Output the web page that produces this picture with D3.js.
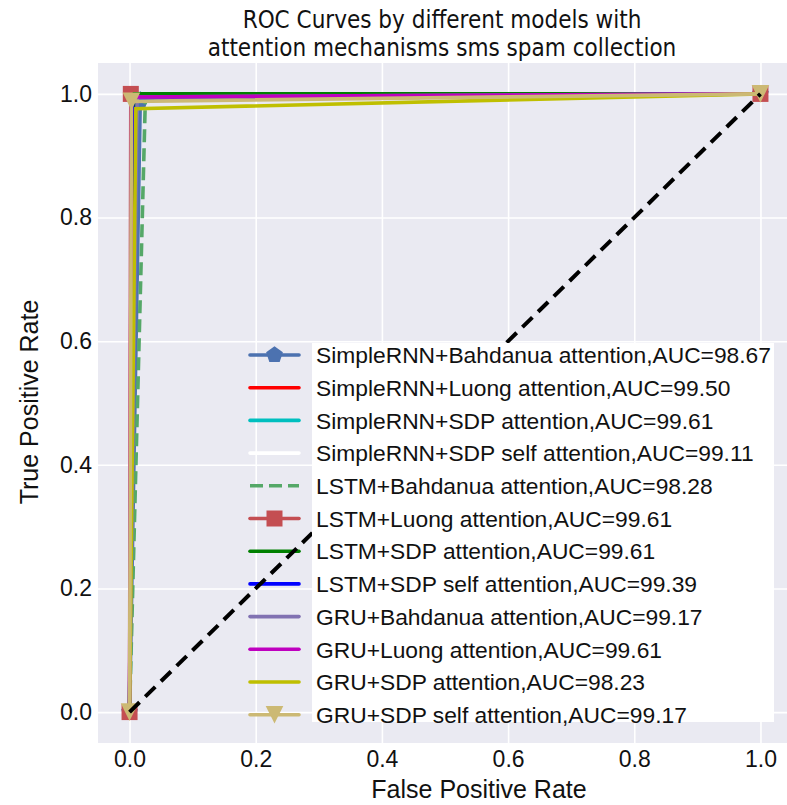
<!DOCTYPE html>
<html>
<head>
<meta charset="utf-8">
<script src="https://cdn.jsdelivr.net/npm/d3@7/dist/d3.min.js"></script>
<style>
  html, body { margin: 0; padding: 0; background: #fff; }
  text { font-family: "Liberation Sans", Arial, sans-serif; }
</style>
</head>
<body>
<div id="chart"></div>
<script>
// ROC curves: each model has one operating point between (0,0) and (1,1)
const models = [
  "SimpleRNN+Bahdanua attention", "SimpleRNN+Luong attention", "SimpleRNN+SDP attention",
  "SimpleRNN+SDP self attention", "LSTM+Bahdanua attention", "LSTM+Luong attention",
  "LSTM+SDP attention", "LSTM+SDP self attention", "GRU+Bahdanua attention",
  "GRU+Luong attention", "GRU+SDP attention", "GRU+SDP self attention"
];
const auc = ["98.67", "99.50", "99.61", "99.11", "98.28", "99.61", "99.61", "99.39", "99.17", "99.61", "98.23", "99.17"];
const fpr = [0.017, 0.005, 0.0078, 0.008, 0.025, 0.002, 0.0078, 0.005, 0.012, 0.003, 0.010, 0.003];
const tpr = [0.990, 0.995, 1.000, 0.990, 0.990, 1.000, 1.000, 0.993, 0.995, 0.995, 0.976, 0.988];
const colors = ["#4C72B0", "#FF0000", "#00BFBF", "#FFFFFF", "#55A868", "#C44E52",
                "#008000", "#0000FF", "#8172B2", "#BF00BF", "#BFBF00", "#CCB974"];
const markers = ["pentagon", null, null, null, null, "square", null, null, null, null, null, "triangle-down"];
const dashed = [false, false, false, false, true, false, false, false, false, false, false, false];
const xTicks = [0, 0.2, 0.4, 0.6, 0.8, 1.0];
const yTicks = [0, 0.2, 0.4, 0.6, 0.8, 1.0];

const W = 787, H = 805;
const pLeft = 98, pTop = 63, pBottom = 743, pRight = 792;

const svg = d3.select('#chart').append('svg').attr('width', W).attr('height', H);

const x = d3.scaleLinear().domain([-0.05, 1.05]).range([pLeft, pRight]);
const y = d3.scaleLinear().domain([-0.05, 1.05]).range([pBottom, pTop]);

svg.append('rect').attr('x', pLeft).attr('y', pTop).attr('width', pRight - pLeft).attr('height', pBottom - pTop).attr('fill', '#EAEAF2');

// grid
const gx = svg.append('g').attr('transform', `translate(0,${pBottom})`)
  .call(d3.axisBottom(x).tickValues(xTicks).tickSize(-(pBottom - pTop)).tickPadding(8).tickFormat(d3.format('.1f')));
const gy = svg.append('g').attr('transform', `translate(${pLeft},0)`)
  .call(d3.axisLeft(y).tickValues(yTicks).tickSize(-(pRight - pLeft)).tickPadding(6).tickFormat(d3.format('.1f')));
[gx, gy].forEach(g => {
  g.select('.domain').remove();
  g.selectAll('.tick line').attr('stroke', '#fff').attr('stroke-width', 1.6);
  g.selectAll('.tick text').attr('font-size', 23).attr('fill', '#111').attr('font-family', '"Liberation Sans", Arial, sans-serif');
});

function drawMarker(g, type, cx, cy, color, s) {
  if (type === 'square') {
    g.append('rect').attr('x', cx - s / 2).attr('y', cy - s / 2).attr('width', s).attr('height', s).attr('fill', color);
  } else if (type === 'triangle-down') {
    const h = s * 0.55;
    g.append('path').attr('d', `M${cx - h},${cy - h}L${cx + h},${cy - h}L${cx},${cy + h}Z`).attr('fill', color);
  } else if (type === 'pentagon') {
    const r = s * 0.55;
    const pts = d3.range(5).map(i => {
      const a = -Math.PI / 2 + i * 2 * Math.PI / 5;
      return [cx + r * Math.cos(a), cy + r * Math.sin(a)];
    });
    g.append('path').attr('d', 'M' + pts.join('L') + 'Z').attr('fill', color);
  }
}

// curves
const line = d3.line().x(d => x(d[0])).y(d => y(d[1]));
const curves = svg.append('g');
models.forEach((m, i) => {
  const pts = [[0, 0], [fpr[i], tpr[i]], [1, 1]];
  curves.append('path').attr('d', line(pts)).attr('fill', 'none')
    .attr('stroke', colors[i]).attr('stroke-width', 3.6)
    .attr('stroke-dasharray', dashed[i] ? '13,6' : null);
  if (markers[i]) pts.forEach(p => drawMarker(curves, markers[i], x(p[0]), y(p[1]), colors[i], 16));
});

// legend handles (under the diagonal)
const legX = 250, legY0 = 355, legStep = 32.7;
const leg = svg.append('g');
models.forEach((m, i) => {
  const yy = legY0 + i * legStep;
  leg.append('line').attr('x1', legX).attr('x2', legX + 49).attr('y1', yy).attr('y2', yy)
    .attr('stroke', colors[i]).attr('stroke-width', 3.6).attr('stroke-linecap', dashed[i] ? 'butt' : 'round')
    .attr('stroke-dasharray', dashed[i] ? '13,6' : null);
  if (markers[i]) drawMarker(leg, markers[i], legX + 24.5, yy, colors[i], 16);
});

// chance diagonal
svg.append('path').attr('d', line([[0, 0], [1, 1]])).attr('fill', 'none')
  .attr('stroke', '#000').attr('stroke-width', 4).attr('stroke-dasharray', '14,8');

// legend text box
svg.append('rect').attr('x', 312).attr('y', 343).attr('width', 462).attr('height', 379).attr('fill', '#fff');
models.forEach((m, i) => {
  svg.append('text').attr('x', 316).attr('y', legY0 + i * legStep).attr('dy', '0.36em')
    .attr('font-size', 22.8).attr('fill', '#111').text(`${m},AUC=${auc[i]}`);
});

// titles
svg.append('text').attr('x', 442).attr('y', 28).attr('text-anchor', 'middle')
  .attr('font-size', 24).style('font-family', '"Liberation Sans Narrow", "DejaVu Sans Condensed", sans-serif')
  .attr('fill', '#111').text('ROC Curves by different models with');
svg.append('text').attr('x', 442).attr('y', 56).attr('text-anchor', 'middle')
  .attr('font-size', 24).style('font-family', '"Liberation Sans Narrow", "DejaVu Sans Condensed", sans-serif')
  .attr('fill', '#111').text('attention mechanisms sms spam collection');
svg.append('text').attr('x', 479).attr('y', 798).attr('text-anchor', 'middle')
  .attr('font-size', 25).attr('fill', '#111').text('False Positive Rate');
svg.append('text').attr('transform', 'translate(38,402) rotate(-90)').attr('text-anchor', 'middle')
  .attr('font-size', 25).attr('fill', '#111').text('True Positive Rate');
</script>
</body>
</html>
